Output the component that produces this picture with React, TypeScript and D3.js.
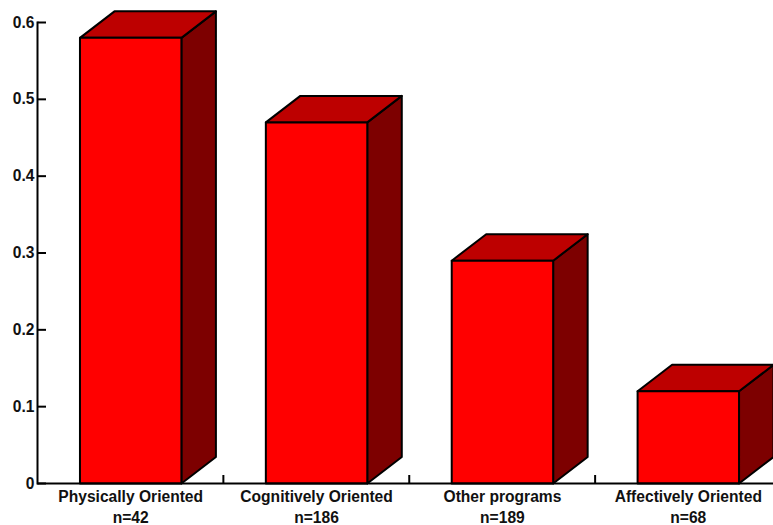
import React from "react";
import * as d3 from "d3";

const categories = ["Physically Oriented", "Cognitively Oriented", "Other programs", "Affectively Oriented"];
const sampleSizes = ["n=42", "n=186", "n=189", "n=68"];
const values = [0.58, 0.47, 0.29, 0.12];
const yTicks = [0, 0.1, 0.2, 0.3, 0.4, 0.5, 0.6];

const W = 773;
const H = 525;
const FONT = "'Liberation Sans', Arial, sans-serif";
const DEPTH_X = 34.5;
const DEPTH_Y = 26.5;

const y = d3.scaleLinear().domain([0, 0.6]).range([483.5, 22.5]);
const x = d3
  .scaleBand<string>()
  .domain(categories)
  .range([37.5, 781.5])
  .paddingInner(0.4543)
  .paddingOuter(0.2285);

const poly = (pts: [number, number][]) => pts.map((p) => p.join(",")).join(" ");

export default function App() {
  const base = y(0);
  const bw = x.bandwidth();
  const step = x.step();
  return (
    <svg
      width={W}
      height={H}
      viewBox={`0 0 ${W} ${H}`}
      style={{ position: "absolute", left: 0, top: 0, background: "#fff" }}
      fontFamily={FONT}
    >
      {categories.map((c, i) => {
        const x0 = x(c)!;
        const x1 = x0 + bw;
        const top = y(values[i]);
        return (
          <g key={c} stroke="#000" strokeWidth={2} strokeLinejoin="round">
            <polygon
              fill="#7d0000"
              points={poly([
                [x1, top],
                [x1 + DEPTH_X, top - DEPTH_Y],
                [x1 + DEPTH_X, base - DEPTH_Y],
                [x1, base],
              ])}
            />
            <polygon
              fill="#bd0000"
              points={poly([
                [x0, top],
                [x0 + DEPTH_X, top - DEPTH_Y],
                [x1 + DEPTH_X, top - DEPTH_Y],
                [x1, top],
              ])}
            />
            <rect x={x0} y={top} width={bw} height={base - top} fill="#ff0000" />
          </g>
        );
      })}

      {/* value axis */}
      <line x1={37.5} x2={37.5} y1={y(0.6) - 1} y2={base + 1} stroke="#000" strokeWidth={2} />
      {yTicks.map((t) => (
        <g key={t}>
          <line x1={37.5} x2={46} y1={y(t)} y2={y(t)} stroke="#000" strokeWidth={2} />
          <text x={34.5} y={y(t) + 5} textAnchor="end" fontSize={15.6} fontWeight="bold" fill="#111">
            {d3.format("~g")(t)}
          </text>
        </g>
      ))}

      {/* category axis */}
      <line x1={37.5} x2={W} y1={base} y2={base} stroke="#000" strokeWidth={2} />
      {categories.slice(0, 3).map((c, i) => (
        <line
          key={c}
          x1={37.5 + step * (i + 1)}
          x2={37.5 + step * (i + 1)}
          y1={base}
          y2={base - 8.5}
          stroke="#000"
          strokeWidth={2}
        />
      ))}
      {categories.map((c, i) => {
        const cx = x(c)! + bw / 2;
        return (
          <g key={c} textAnchor="middle" fontSize={15.6} fontWeight="bold" fill="#111">
            <text x={cx} y={502}>{c}</text>
            <text x={cx} y={523}>{sampleSizes[i]}</text>
          </g>
        );
      })}
    </svg>
  );
}
